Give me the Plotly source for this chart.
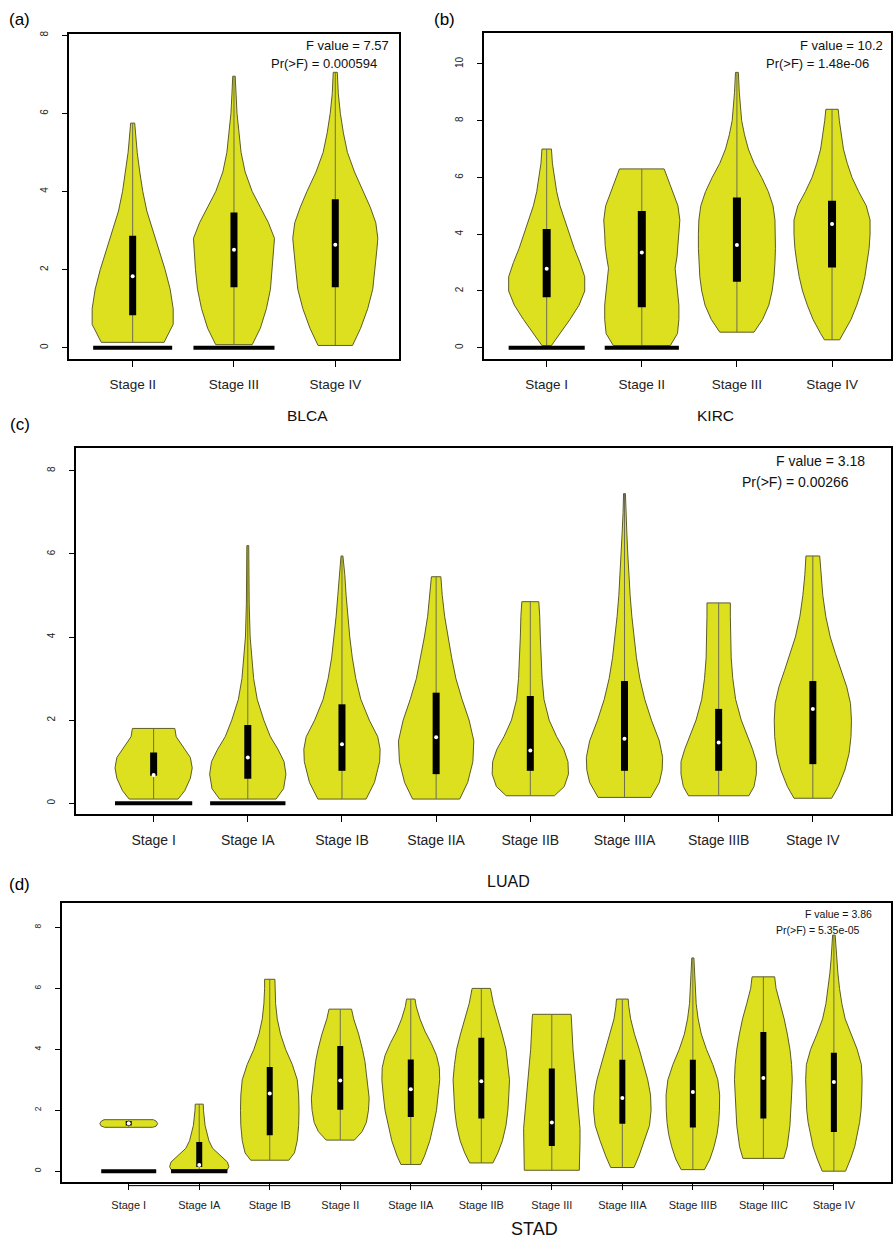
import plotly.graph_objects as go

W, H = 893, 1239

# ------------------------------------------------------------------ data
BLCA_STAGES = ["Stage II", "Stage III", "Stage IV"]
BLCA_Q1 = [0.83, 1.55, 1.55]
BLCA_MED = [1.83, 2.51, 2.64]
BLCA_Q3 = [2.87, 3.46, 3.80]
BLCA_ZERO = [0.39, 0.40, 0.0]
BLCA_VY = [
    [0.14, 0.6, 1.0, 1.5, 2.0, 2.5, 3.0, 3.5, 4.0, 4.5, 5.0, 5.5, 5.75],
    [0.08, 0.5, 1.0, 1.5, 2.0, 2.5, 2.8, 3.2, 3.6, 4.0, 4.5, 5.0, 5.5, 6.0, 6.5, 6.95],
    [0.06, 0.5, 1.0, 1.5, 2.0, 2.5, 2.8, 3.2, 3.6, 4.0, 4.5, 5.0, 5.5, 6.0, 6.5, 7.05],
]
BLCA_VW = [
    [0.31, 0.40, 0.40, 0.37, 0.32, 0.26, 0.20, 0.14, 0.10, 0.07, 0.045, 0.028, 0.02],
    [0.18, 0.26, 0.32, 0.36, 0.38, 0.39, 0.40, 0.34, 0.26, 0.18, 0.11, 0.07, 0.05, 0.03, 0.02, 0.012],
    [0.17, 0.25, 0.32, 0.37, 0.39, 0.41, 0.42, 0.40, 0.345, 0.28, 0.19, 0.12, 0.08, 0.05, 0.03, 0.02],
]
BLCA_STATS = ["F value = 7.57", "Pr(>F) = 0.000594"]

KIRC_STAGES = ["Stage I", "Stage II", "Stage III", "Stage IV"]
KIRC_Q1 = [1.78, 1.43, 2.33, 2.83]
KIRC_MED = [2.78, 3.36, 3.62, 4.36]
KIRC_Q3 = [4.18, 4.82, 5.29, 5.18]
KIRC_ZERO = [0.40, 0.39, 0.0, 0.0]
KIRC_VY = [
    [0.08, 0.5, 1.0, 1.5, 2.0, 2.5, 3.0, 3.5, 4.0, 4.5, 5.0, 5.5, 6.0, 6.5, 7.0],
    [0.08, 0.5, 1.0, 1.5, 2.0, 2.5, 2.8, 3.2, 3.6, 4.0, 4.5, 5.0, 5.5, 6.0, 6.3],
    [0.55, 1.0, 1.5, 2.0, 2.5, 3.0, 3.5, 4.0, 4.5, 5.0, 5.5, 6.0, 6.5, 7.0, 7.5, 8.0, 8.5, 9.0, 9.7],
    [0.28, 0.5, 1.0, 1.5, 2.0, 2.5, 3.0, 3.5, 4.0, 4.5, 5.0, 5.5, 6.0, 6.5, 7.0, 7.5, 8.0, 8.4],
]
KIRC_VW = [
    [0.05, 0.14, 0.245, 0.34, 0.40, 0.40, 0.35, 0.29, 0.24, 0.19, 0.14, 0.105, 0.08, 0.06, 0.05],
    [0.30, 0.375, 0.39, 0.39, 0.375, 0.36, 0.35, 0.37, 0.385, 0.39, 0.40, 0.38, 0.325, 0.27, 0.235],
    [0.18, 0.27, 0.335, 0.37, 0.39, 0.40, 0.405, 0.405, 0.40, 0.38, 0.33, 0.26, 0.18, 0.12, 0.08,
     0.05, 0.035, 0.025, 0.015],
    [0.08, 0.12, 0.20, 0.26, 0.31, 0.345, 0.37, 0.39, 0.40, 0.40, 0.36, 0.28, 0.21, 0.16, 0.12,
     0.095, 0.077, 0.065],
]
KIRC_STATS = ["F value = 10.2", "Pr(>F) = 1.48e-06"]

LUAD_STAGES = ["Stage I", "Stage IA", "Stage IB", "Stage IIA", "Stage IIB",
               "Stage IIIA", "Stage IIIB", "Stage IV"]
LUAD_Q1 = [0.66, 0.59, 0.78, 0.70, 0.78, 0.78, 0.78, 0.94]
LUAD_MED = [0.68, 1.10, 1.42, 1.59, 1.27, 1.55, 1.46, 2.27]
LUAD_Q3 = [1.22, 1.88, 2.38, 2.66, 2.58, 2.94, 2.27, 2.94]
LUAD_ZERO = [0.41, 0.40, 0, 0, 0, 0, 0, 0]
LUAD_VY = [
    [0.1, 0.3, 0.6, 0.85, 1.1, 1.4, 1.6, 1.8],
    [0.1, 0.35, 0.7, 1.0, 1.3, 1.6, 2.0, 2.5, 3.0, 3.5, 4.0, 4.8, 5.5, 6.2],
    [0.1, 0.5, 1.0, 1.3, 1.6, 2.0, 2.5, 3.0, 3.5, 4.0, 4.5, 5.0, 5.5, 5.95],
    [0.1, 0.5, 1.0, 1.5, 2.0, 2.5, 3.0, 3.5, 4.0, 4.5, 5.0, 5.45],
    [0.18, 0.4, 0.7, 1.0, 1.3, 1.6, 2.0, 2.5, 3.0, 3.5, 4.0, 4.5, 4.85],
    [0.14, 0.5, 0.8, 1.1, 1.5, 2.0, 2.5, 3.0, 3.5, 4.0, 4.5, 5.0, 5.5, 6.0, 6.5, 7.0, 7.45],
    [0.18, 0.4, 0.7, 1.0, 1.3, 1.6, 2.0, 2.5, 3.0, 3.5, 4.0, 4.5, 4.82],
    [0.12, 0.4, 0.8, 1.2, 1.6, 2.0, 2.4, 2.8, 3.2, 3.6, 4.0, 4.5, 5.0, 5.5, 5.95],
]
LUAD_VW = [
    [0.26, 0.33, 0.39, 0.41, 0.39, 0.30, 0.24, 0.225],
    [0.30, 0.38, 0.405, 0.385, 0.32, 0.24, 0.17, 0.10, 0.062, 0.04, 0.025, 0.015, 0.012, 0.01],
    [0.256, 0.345, 0.40, 0.405, 0.38, 0.29, 0.20, 0.147, 0.11, 0.083, 0.062, 0.044, 0.03, 0.01],
    [0.25, 0.335, 0.39, 0.40, 0.35, 0.275, 0.21, 0.165, 0.125, 0.09, 0.065, 0.05],
    [0.256, 0.36, 0.405, 0.40, 0.355, 0.28, 0.20, 0.145, 0.125, 0.113, 0.106, 0.10, 0.09],
    [0.28, 0.37, 0.40, 0.405, 0.37, 0.286, 0.215, 0.163, 0.127, 0.10, 0.078, 0.06, 0.046, 0.035,
     0.025, 0.015, 0.01],
    [0.32, 0.375, 0.40, 0.40, 0.36, 0.31, 0.24, 0.18, 0.15, 0.133, 0.125, 0.124, 0.124],
    [0.20, 0.27, 0.34, 0.385, 0.405, 0.41, 0.40, 0.36, 0.30, 0.24, 0.185, 0.137, 0.106, 0.085, 0.073],
]
LUAD_STATS = ["F value = 3.18", "Pr(>F) = 0.00266"]

STAD_STAGES = ["Stage I", "Stage IA", "Stage IB", "Stage II", "Stage IIA", "Stage IIB",
               "Stage III", "Stage IIIA", "Stage IIIB", "Stage IIIC", "Stage IV"]
STAD_Q1 = [1.50, 0.14, 1.18, 2.02, 1.78, 1.73, 0.83, 1.56, 1.43, 1.73, 1.29]
STAD_MED = [1.57, 0.20, 2.55, 2.98, 2.69, 2.95, 1.60, 2.40, 2.60, 3.06, 2.93]
STAD_Q3 = [1.65, 0.96, 3.42, 4.11, 3.67, 4.38, 3.37, 3.66, 3.66, 4.57, 3.89]
STAD_ZERO = [0.39, 0.40, 0, 0, 0, 0, 0, 0, 0, 0, 0]
STAD_VY = [
    [1.44, 1.48, 1.56, 1.64, 1.69],
    [0.05, 0.15, 0.3, 0.5, 0.75, 1.0, 1.5, 2.0, 2.2],
    [0.36, 0.6, 1.0, 1.5, 2.0, 2.5, 3.0, 3.5, 4.0, 4.5, 5.0, 5.5, 6.0, 6.3],
    [1.02, 1.3, 1.6, 2.0, 2.4, 2.8, 3.2, 3.6, 4.0, 4.5, 5.0, 5.32],
    [0.22, 0.5, 1.0, 1.5, 2.0, 2.5, 3.0, 3.4, 3.8, 4.2, 4.6, 5.0, 5.4, 5.65],
    [0.27, 0.6, 1.0, 1.5, 2.0, 2.5, 3.0, 3.5, 4.0, 4.5, 5.0, 5.5, 6.0],
    [0.03, 0.5, 1.0, 1.4, 2.0, 3.0, 4.0, 5.0, 5.15],
    [0.12, 0.5, 1.0, 1.5, 2.0, 2.5, 3.0, 3.5, 4.0, 4.5, 5.0, 5.4, 5.65],
    [0.05, 0.4, 0.8, 1.2, 1.6, 2.0, 2.5, 3.0, 3.5, 4.0, 4.5, 5.0, 5.5, 6.0, 6.5, 7.0],
    [0.42, 0.8, 1.5, 2.0, 2.5, 3.0, 3.5, 4.0, 4.5, 5.0, 5.5, 6.0, 6.38],
    [0.0, 0.4, 0.8, 1.2, 1.6, 2.0, 2.5, 3.0, 3.5, 4.0, 4.5, 5.0, 5.5, 6.0, 6.5, 7.0, 7.5, 7.75],
]
STAD_VW = [
    [0.34, 0.39, 0.41, 0.39, 0.35],
    [0.40, 0.42, 0.40, 0.31, 0.19, 0.137, 0.083, 0.06, 0.057],
    [0.27, 0.35, 0.39, 0.41, 0.415, 0.41, 0.39, 0.32, 0.225, 0.153, 0.106, 0.083, 0.073, 0.073],
    [0.20, 0.31, 0.37, 0.40, 0.41, 0.395, 0.37, 0.35, 0.315, 0.26, 0.19, 0.16],
    [0.14, 0.195, 0.27, 0.32, 0.365, 0.39, 0.41, 0.405, 0.365, 0.29, 0.20, 0.13, 0.078, 0.06],
    [0.165, 0.235, 0.30, 0.35, 0.377, 0.39, 0.40, 0.38, 0.35, 0.295, 0.236, 0.172, 0.13],
    [0.39, 0.395, 0.40, 0.40, 0.377, 0.335, 0.30, 0.278, 0.273],
    [0.165, 0.236, 0.316, 0.385, 0.408, 0.40, 0.36, 0.30, 0.24, 0.172, 0.118, 0.092, 0.083],
    [0.165, 0.243, 0.30, 0.342, 0.366, 0.377, 0.38, 0.354, 0.283, 0.193, 0.12, 0.075, 0.047,
     0.033, 0.024, 0.015],
    [0.29, 0.337, 0.377, 0.39, 0.40, 0.41, 0.40, 0.377, 0.34, 0.295, 0.236, 0.18, 0.16],
    [0.165, 0.236, 0.295, 0.335, 0.365, 0.385, 0.396, 0.40, 0.39, 0.33, 0.24, 0.16, 0.113, 0.08,
     0.057, 0.038, 0.025, 0.018],
]
STAD_STATS = ["F value = 3.86", "Pr(>F) = 5.35e-05"]

Y_TICKS_8 = [0, 2, 4, 6, 8]
Y_TICKS_10 = [0, 2, 4, 6, 8, 10]

# ------------------------------------------------------------------ style / layout
FONT = "Liberation Sans, Arial, Helvetica, sans-serif"
FILL = "#DCE01E"
EDGE = "#5C5C28"
MIDLINE = "#6E6E50"

PANELS = [
    dict(name="BLCA", stages=BLCA_STAGES, q1=BLCA_Q1, med=BLCA_MED, q3=BLCA_Q3, zero=BLCA_ZERO,
         vy=BLCA_VY, vw=BLCA_VW, stats=BLCA_STATS, yticks=Y_TICKS_8,
         px=(69, 400), py=(30.7, 357), xr=[0.37, 3.63], yr=[-0.29, 8.04],
         boxw=7, tickfs=13.5, yfs=10, statfs=13, stat_r=(392, 380), stat_y=(43, 61),
         label="(a)", label_xy=(20, 17), title_xy=(308, 414), title_fs=15.5, rline=None),
    dict(name="KIRC", stages=KIRC_STAGES, q1=KIRC_Q1, med=KIRC_MED, q3=KIRC_Q3, zero=KIRC_ZERO,
         vy=KIRC_VY, vw=KIRC_VW, stats=KIRC_STATS, yticks=Y_TICKS_10,
         px=(485, 893), py=(30, 357), xr=[0.34, 4.62], yr=[-0.40, 11.09],
         boxw=8, tickfs=13.5, yfs=10, statfs=13, stat_r=(887, 873), stat_y=(43, 61),
         label="(b)", label_xy=(445, 17), title_xy=(717, 414), title_fs=15.5, rline=None),
    dict(name="LUAD", stages=LUAD_STAGES, q1=LUAD_Q1, med=LUAD_MED, q3=LUAD_Q3, zero=LUAD_ZERO,
         vy=LUAD_VY, vw=LUAD_VW, stats=LUAD_STATS, yticks=Y_TICKS_8,
         px=(76, 893), py=(446, 813), xr=[0.174, 8.83], yr=[-0.26, 8.55],
         boxw=7, tickfs=14, yfs=10, statfs=14, stat_r=(869, 853), stat_y=(459, 480),
         label="(c)", label_xy=(20, 423), title_xy=(510, 881), title_fs=16, rline=None),
    dict(name="STAD", stages=STAD_STAGES, q1=STAD_Q1, med=STAD_MED, q3=STAD_Q3, zero=STAD_ZERO,
         vy=STAD_VY, vw=STAD_VW, stats=STAD_STATS, yticks=Y_TICKS_8,
         px=(62, 893), py=(902, 1182), xr=[0.052, 11.81], yr=[-0.36, 8.81],
         boxw=6, tickfs=11, yfs=8.5, statfs=10.5, stat_r=(876, 864), stat_y=(913, 929),
         label="(d)", label_xy=(20, 884), title_xy=(536, 1229), title_fs=18, rline=1185.5),
]

fig = go.Figure()
layout = dict(width=W, height=H, margin=dict(l=0, r=0, t=0, b=0),
              paper_bgcolor="white", plot_bgcolor="white", showlegend=False,
              font=dict(family=FONT, color="black"))
annotations = []
shapes = []

for i, p in enumerate(PANELS):
    sfx = "" if i == 0 else str(i + 1)
    xa, ya = "x" + sfx, "y" + sfx
    n = len(p["stages"])
    pos = list(range(1, n + 1))

    # violin outlines (one polygon per stage, separated by None)
    vx, vyy = [], []
    for c, ys, ws in zip(pos, p["vy"], p["vw"]):
        xs = [c - w for w in ws] + [c + w for w in reversed(ws)] + [c - ws[0]]
        yy = list(ys) + list(reversed(ys)) + [ys[0]]
        vx += xs + [None]
        vyy += yy + [None]
    fig.add_trace(go.Scatter(x=vx, y=vyy, xaxis=xa, yaxis=ya, mode="lines",
                             fill="toself", fillcolor=FILL,
                             line=dict(color=EDGE, width=1), hoverinfo="skip"))

    # central whisker line
    lx, ly = [], []
    for c, ys in zip(pos, p["vy"]):
        lx += [c, c, None]
        ly += [ys[0], ys[-1], None]
    fig.add_trace(go.Scatter(x=lx, y=ly, xaxis=xa, yaxis=ya, mode="lines",
                             line=dict(color=MIDLINE, width=1), hoverinfo="skip"))

    # black bars at zero
    zx, zy = [], []
    for c, z in zip(pos, p["zero"]):
        if z > 0:
            zx += [c - z, c + z, None]
            zy += [0, 0, None]
    if zx:
        fig.add_trace(go.Scatter(x=zx, y=zy, xaxis=xa, yaxis=ya, mode="lines",
                                 line=dict(color="black", width=4), hoverinfo="skip"))

    # IQR boxes
    bx, by = [], []
    for c, a, b in zip(pos, p["q1"], p["q3"]):
        bx += [c, c, None]
        by += [a, b, None]
    fig.add_trace(go.Scatter(x=bx, y=by, xaxis=xa, yaxis=ya, mode="lines",
                             line=dict(color="black", width=p["boxw"]), hoverinfo="skip"))

    # medians
    fig.add_trace(go.Scatter(x=pos, y=p["med"], xaxis=xa, yaxis=ya, mode="markers",
                             marker=dict(color="white", size=4, line=dict(width=0)),
                             hoverinfo="skip"))

    l, r = p["px"]
    t, b = p["py"]
    axis_common = dict(showgrid=False, zeroline=False, showline=True, linecolor="black",
                       linewidth=2, mirror=True, ticks="outside", tickcolor="black",
                       ticklen=6, tickwidth=1)
    layout["xaxis" + sfx] = dict(axis_common, domain=[l / W, r / W], range=p["xr"],
                                 anchor=ya, tickvals=pos, ticktext=p["stages"],
                                 tickfont=dict(size=p["tickfs"], family=FONT, color="#222"),
                                 ticklabelstandoff=6)
    layout["yaxis" + sfx] = dict(axis_common, domain=[1 - b / H, 1 - t / H], range=p["yr"],
                                 anchor=xa, tickvals=p["yticks"], tickangle=-90,
                                 tickfont=dict(size=p["yfs"], family=FONT, color="#222"),
                                 ticklabelstandoff=10, ticklen=5)

    # secondary R-style axis line under the box
    if p["rline"] is not None:
        shapes.append(dict(type="line", xref=xa, yref="paper", x0=pos[0], x1=pos[-1],
                           y0=1 - p["rline"] / H, y1=1 - p["rline"] / H,
                           line=dict(color="black", width=1)))

    # stats text
    for txt, rx, yy in zip(p["stats"], p["stat_r"], p["stat_y"]):
        annotations.append(dict(text=txt, xref="paper", yref="paper", x=rx / W, y=1 - yy / H,
                                xanchor="right", yanchor="middle", showarrow=False,
                                font=dict(size=p["statfs"], family=FONT, color="#111")))
    # panel label
    lx0, ly0 = p["label_xy"]
    annotations.append(dict(text=p["label"], xref="paper", yref="paper", x=lx0 / W, y=1 - ly0 / H,
                            xanchor="center", yanchor="middle", showarrow=False,
                            font=dict(size=17, family=FONT, color="black")))
    # cancer title
    tx, ty = p["title_xy"]
    annotations.append(dict(text=p["name"], xref="paper", yref="paper", x=tx / W, y=1 - ty / H,
                            xanchor="center", yanchor="middle", showarrow=False,
                            font=dict(size=p["title_fs"], family=FONT, color="#111")))

layout["annotations"] = annotations
layout["shapes"] = shapes
fig.update_layout(**layout)
fig.write_html("out.html")
